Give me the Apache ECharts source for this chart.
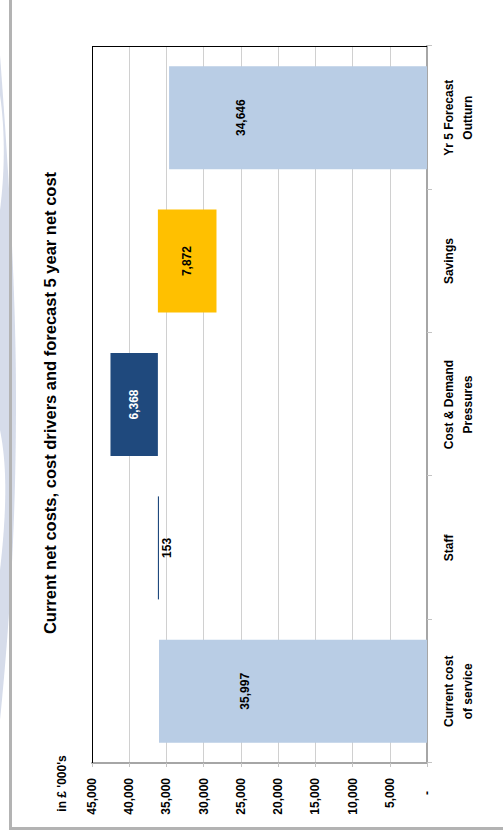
<!DOCTYPE html>
<html>
<head>
<meta charset="utf-8">
<script src="https://cdn.jsdelivr.net/npm/echarts@6/dist/echarts.min.js"></script>
<style>
  html, body { margin: 0; padding: 0; background: #fff; overflow: hidden; }
  #page { position: absolute; left: 0; top: 0; width: 503px; height: 835px; background: #fff; }
  /* the chart is laid out landscape and turned a quarter turn to sit on the portrait page */
  #chart {
    position: absolute; left: 0; top: 0;
    width: 835px; height: 503px;
    transform-origin: 0 0;
    transform: translate(0, 835px) rotate(-90deg);
  }
</style>
</head>
<body>
<div id="page"><div id="chart"></div></div>
<script>
// ---- data -------------------------------------------------------------
const categories = ['Current cost\nof service', 'Staff', 'Cost & Demand\nPressures', 'Savings', 'Yr 5 Forecast\nOutturn'];
const stepValues = [35997, 153, 6368, 7872, 34646];      // height of each visible step
const stepBase   = [0, 35997, 36150, 28278, 0];          // invisible offset under each step
const barColors  = ['#B9CDE5', '#1F497D', '#1F497D', '#FFC000', '#B9CDE5'];
const valueMin = 0, valueMax = 45000, valueStep = 5000;
const titleText = 'Current net costs, cost drivers and forecast 5 year net cost';
const unitText = "in £ '000's";

// ---- helpers ----------------------------------------------------------
const W = 835, H = 503;                 // landscape chart size
const FONT = '"Liberation Sans", Arial, sans-serif';
const fmt = v => Math.round(v).toLocaleString('en-US');
// page (portrait) coordinates -> chart (landscape) coordinates
const P = (x, y) => [W - y, x];
// sample a chain of cubic curves (page coordinates) into polygon points
function curvePoints(start, segs) {
  const pts = [P(start[0], start[1])];
  let p0 = start;
  segs.forEach(([c1, c2, p3]) => {
    for (let i = 1; i <= 24; i++) {
      const t = i / 24, m = 1 - t;
      const x = m*m*m*p0[0] + 3*m*m*t*c1[0] + 3*m*t*t*c2[0] + t*t*t*p3[0];
      const y = m*m*m*p0[1] + 3*m*m*t*c1[1] + 3*m*t*t*c2[1] + t*t*t*p3[1];
      pts.push(P(x, y));
    }
    p0 = p3;
  });
  return pts;
}

const labelCfg = [
  { position: 'inside', offset: [0, -48], color: '#000' },
  { position: 'bottom', distance: 2, color: '#000' },
  { position: 'inside', color: '#fff' },
  { position: 'inside', color: '#000' },
  { position: 'inside', offset: [0, -57], color: '#000' }
];

const chart = echarts.init(document.getElementById('chart'), null, { renderer: 'svg' });

const gridL = 72, gridR = 46, gridT = 92, gridB = 76;

chart.setOption({
  backgroundColor: 'transparent',
  animation: false,
  textStyle: { fontFamily: FONT },
  title: {
    text: titleText,
    left: 427, top: 36,
    textAlign: 'center',
    textStyle: { fontFamily: FONT, fontSize: 16.5, fontWeight: 'bold', color: '#000' }
  },
  grid: { left: gridL, right: gridR, top: gridT, bottom: gridB, outerBoundsMode: 'none', containLabel: false },
  xAxis: {
    type: 'category',
    data: categories,
    axisLine: { show: true, lineStyle: { color: '#a6a6a6', width: 2 } },
    axisTick: { show: true, length: 5, lineStyle: { color: '#c4c4c4' } },
    axisLabel: {
      interval: 0, margin: 12, lineHeight: 19,
      fontFamily: FONT, fontSize: 12, fontWeight: 'bold', color: '#000'
    },
    splitLine: { show: false }
  },
  yAxis: {
    type: 'value',
    min: valueMin, max: valueMax, interval: valueStep,
    axisLine: { show: true, lineStyle: { color: '#a6a6a6', width: 2 } },
    axisTick: { show: true, length: 4, lineStyle: { color: '#c4c4c4' } },
    splitLine: { show: true, lineStyle: { color: '#d0d0d0', width: 1 } },
    axisLabel: {
      margin: 15, showMinLabel: true, showMaxLabel: true,
      fontFamily: FONT, fontSize: 12, fontWeight: 'bold', color: '#000',
      formatter: v => v === 0 ? '{z|-}' : fmt(v),
      rich: { z: { fontFamily: FONT, fontSize: 12, fontWeight: 'bold', color: '#000', padding: [0, 13, 0, 0] } }
    }
  },
  series: [
    {
      name: 'base', type: 'bar', stack: 'steps', silent: true,
      barWidth: 103,
      itemStyle: { color: 'rgba(0,0,0,0)' },
      data: stepBase
    },
    {
      name: 'step', type: 'bar', stack: 'steps',
      barWidth: 103,
      data: stepValues.map((v, i) => ({
        value: v,
        itemStyle: { color: barColors[i] },
        label: Object.assign({
          show: true,
          formatter: fmt(v),
          fontFamily: FONT, fontSize: 12, fontWeight: 'bold'
        }, labelCfg[i])
      }))
    }
  ],
  graphic: [
    // soft decorative band down the page edge
    {
      type: 'polygon', z: -10, silent: true,
      shape: { points: curvePoints([0, 55], [
        [[7, 150], [16, 280], [16, 400]],
        [[16, 520], [10, 620], [0, 720]]
      ]) },
      style: { fill: '#d6dcea' }
    },
    {
      type: 'polygon', z: -9, silent: true,
      shape: { points: curvePoints([0, 430], [[[6, 460], [8, 500], [0, 570]]]) },
      style: { fill: '#ffffff' }
    },
    {
      type: 'polygon', z: -9, silent: true,
      shape: { points: curvePoints([0, 95], [[[5, 130], [5, 170], [0, 210]]]) },
      style: { fill: '#ffffff' }
    },
    // page frame
    { type: 'line', z: -5, silent: true,
      shape: { x1: P(10.5, 0)[0], y1: P(10.5, 0)[1], x2: P(10.5, 829)[0], y2: P(10.5, 829)[1] },
      style: { stroke: '#b3b3b3', lineWidth: 3 } },
    { type: 'line', z: -5, silent: true,
      shape: { x1: P(9, 828.5)[0], y1: P(9, 828.5)[1], x2: P(503, 828.5)[0], y2: P(503, 828.5)[1] },
      style: { stroke: '#b3b3b3', lineWidth: 3 } },
    // dark plot-area border on the two open sides
    { type: 'line', z: 10, silent: true,
      shape: { x1: gridL, y1: gridT + 0.5, x2: W - gridR, y2: gridT + 0.5 },
      style: { stroke: '#000', lineWidth: 1 } },
    { type: 'line', z: 10, silent: true,
      shape: { x1: W - gridR - 0.5, y1: gridT, x2: W - gridR - 0.5, y2: H - gridB },
      style: { stroke: '#000', lineWidth: 1 } },
    // unit caption
    { type: 'text', z: 10, silent: true,
      x: 51.5, y: 62,
      style: { text: unitText, font: 'bold 12px ' + FONT, fill: '#000', textAlign: 'center', textVerticalAlign: 'middle' } }
  ]
});
</script>
</body>
</html>
